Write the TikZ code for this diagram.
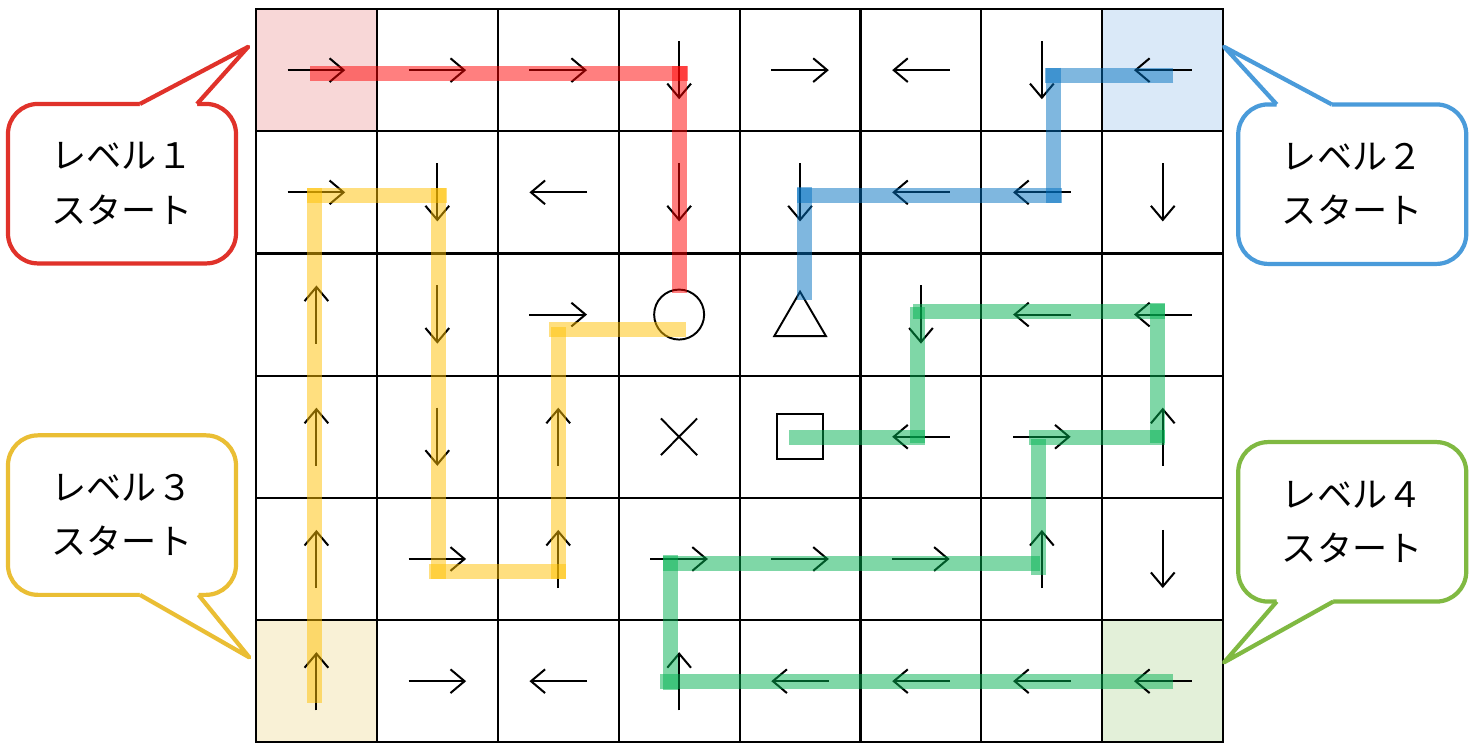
\documentclass[tikz,border=0pt]{standalone}
\usepackage{fontspec}
\newfontfamily\jpfont{Noto Sans CJK JP}
\usetikzlibrary{arrows.meta}

\definecolor{bubblered}{RGB}{224,50,42}
\definecolor{bubbleblue}{RGB}{74,155,218}
\definecolor{bubbleyellow}{RGB}{234,190,52}
\definecolor{bubblegreen}{RGB}{128,185,66}
\definecolor{cellred}{RGB}{248,215,215}
\definecolor{cellblue}{RGB}{218,233,248}
\definecolor{cellyellow}{RGB}{249,241,214}
\definecolor{cellgreen}{RGB}{227,240,217}
\definecolor{routered}{RGB}{255,0,0}
\definecolor{routeblue}{RGB}{0,112,192}
\definecolor{routeyellow}{RGB}{255,192,0}
\definecolor{routegreen}{RGB}{0,176,80}

\begin{document}
\begin{tikzpicture}[x=2.418cm, y=-2.444cm,
        gridline/.style={line width=1.2pt, line cap=rect},
        cellarrow/.style={-{Straight Barb[length=8pt, width=13.5pt]}, line width=1.15pt},
        symbolline/.style={line width=1.1pt},
        route/.style={line width=0.3cm, draw opacity=0.5},
        bubble/.style={rectangle, rounded corners=0.6cm, draw, fill=white, line width=2.4pt, outer sep=0pt,
            minimum width=4.56cm, minimum height=3.19cm, align=center,
            font=\jpfont\fontsize{20}{31}\selectfont},
        pointer/.style={line width=2.4pt, line join=round}
    ]
        \useasboundingbox (-2.117,-0.074) rectangle (10.041,5.998);

        % Start cells
        \fill[cellred] (0,0) rectangle (1,1);
        \fill[cellblue] (7,0) rectangle (8,1);
        \fill[cellyellow] (0,5) rectangle (1,6);
        \fill[cellgreen] (7,5) rectangle (8,6);

        % Grid
        \foreach \i in {0,...,8} \draw[gridline] (\i,0) -- (\i,6);
        \foreach \j in {0,...,6} \draw[gridline] (0,\j) -- (8,\j);

        % Arrows in cells (column/row/dx/dy)
        \foreach \c/\r/\dx/\dy in {0/0/1/0, 1/0/1/0, 2/0/1/0, 4/0/1/0, 0/1/1/0, 2/2/1/0, 6/3/1/0,
                1/4/1/0, 3/4/1/0, 4/4/1/0, 5/4/1/0, 1/5/1/0,
                5/0/-1/0, 7/0/-1/0, 2/1/-1/0, 5/1/-1/0, 6/1/-1/0, 6/2/-1/0, 7/2/-1/0, 5/3/-1/0,
                2/5/-1/0, 4/5/-1/0, 5/5/-1/0, 6/5/-1/0, 7/5/-1/0,
                3/0/0/1, 6/0/0/1, 1/1/0/1, 3/1/0/1, 4/1/0/1, 7/1/0/1, 1/2/0/1, 5/2/0/1, 1/3/0/1, 7/4/0/1,
                0/2/0/-1, 0/3/0/-1, 2/3/0/-1, 7/3/0/-1, 0/4/0/-1, 2/4/0/-1, 6/4/0/-1, 0/5/0/-1, 3/5/0/-1}
            \draw[cellarrow] ({\c+0.5-0.238*\dx},{\r+0.5-0.238*\dy}) -- ({\c+0.5+0.238*\dx},{\r+0.5+0.238*\dy});

        % Goal symbols
        \draw[symbolline] (3.5,2.5) circle[radius=0.5cm];
        \draw[symbolline] (4.5,2.313) -- (4.714,2.676) -- (4.287,2.676) -- cycle;
        \draw[symbolline] (3.349,3.35) -- (3.649,3.65);
        \draw[symbolline] (3.349,3.65) -- (3.649,3.35);
        \draw[symbolline] (4.312,3.314) rectangle (4.687,3.685);

        % Level 1 route
        \draw[route, draw=routered] (0.447,0.526) -- (3.571,0.526);
        \draw[route, draw=routered] (3.507,0.464) -- (3.507,2.322);
        % Level 2 route
        \draw[route, draw=routeblue] (7.587,0.542) -- (6.529,0.542);
        \draw[route, draw=routeblue] (6.596,0.480) -- (6.596,1.585);
        \draw[route, draw=routeblue] (6.664,1.522) -- (4.472,1.522);
        \draw[route, draw=routeblue] (4.533,1.459) -- (4.533,2.381);
        % Level 3 route
        \draw[route, draw=routeyellow] (0.488,5.677) -- (0.488,1.467);
        \draw[route, draw=routeyellow] (0.424,1.529) -- (1.577,1.529);
        \draw[route, draw=routeyellow] (1.512,1.467) -- (1.512,4.667);
        \draw[route, draw=routeyellow] (1.431,4.601) -- (2.564,4.601);
        \draw[route, draw=routeyellow] (2.502,4.667) -- (2.502,2.602);
        \draw[route, draw=routeyellow] (2.426,2.619) -- (3.554,2.619);
        % Level 4 route
        \draw[route, draw=routegreen] (7.587,5.506) -- (3.342,5.506);
        \draw[route, draw=routegreen] (3.428,5.573) -- (3.428,4.468);
        \draw[route, draw=routegreen] (3.364,4.534) -- (6.485,4.534);
        \draw[route, draw=routegreen] (6.475,4.632) -- (6.475,3.521);
        \draw[route, draw=routegreen] (6.394,3.509) -- (7.519,3.509);
        \draw[route, draw=routegreen] (7.454,3.549) -- (7.454,2.408);
        \draw[route, draw=routegreen] (7.519,2.473) -- (5.432,2.473);
        \draw[route, draw=routegreen] (5.471,2.441) -- (5.471,3.549);
        \draw[route, draw=routegreen] (5.533,3.509) -- (4.411,3.509);

        % Speech bubbles
        \node[bubble, draw=bubblered] (lv1) at (-1.108,1.429) {レベル１\\スタート};
        \node[bubble, draw=bubbleblue] (lv2) at (9.067,1.433) {レベル２\\スタート};
        \node[bubble, draw=bubbleyellow] (lv3) at (-1.108,4.141) {レベル３\\スタート};
        \node[bubble, draw=bubblegreen] (lv4) at (9.067,4.196) {レベル４\\スタート};

        \coordinate (tip1) at (-0.064,0.309);
        \coordinate (tip2) at (8.007,0.309);
        \coordinate (tip3) at (-0.055,5.305);
        \coordinate (tip4) at (8.007,5.346);

        \fill[white] ([xshift=0.36cm, yshift=-0.12cm]lv1.north) -- ([xshift=0.36cm]lv1.north) -- (tip1)
            -- ([xshift=1.5cm]lv1.north) -- ([xshift=1.5cm, yshift=-0.12cm]lv1.north) -- cycle;
        \draw[pointer, draw=bubblered] ([xshift=0.36cm]lv1.north) -- (tip1) -- ([xshift=1.5cm]lv1.north);

        \fill[white] ([xshift=-1.51cm, yshift=-0.12cm]lv2.north) -- ([xshift=-1.51cm]lv2.north) -- (tip2)
            -- ([xshift=-0.41cm]lv2.north) -- ([xshift=-0.41cm, yshift=-0.12cm]lv2.north) -- cycle;
        \draw[pointer, draw=bubbleblue] ([xshift=-1.51cm]lv2.north) -- (tip2) -- ([xshift=-0.41cm]lv2.north);

        \fill[white] ([xshift=0.36cm, yshift=0.12cm]lv3.south) -- ([xshift=0.36cm]lv3.south) -- (tip3)
            -- ([xshift=1.53cm]lv3.south) -- ([xshift=1.53cm, yshift=0.12cm]lv3.south) -- cycle;
        \draw[pointer, draw=bubbleyellow] ([xshift=0.36cm]lv3.south) -- (tip3) -- ([xshift=1.53cm]lv3.south);

        \fill[white] ([xshift=-1.51cm, yshift=0.12cm]lv4.south) -- ([xshift=-1.51cm]lv4.south) -- (tip4)
            -- ([xshift=-0.38cm]lv4.south) -- ([xshift=-0.38cm, yshift=0.12cm]lv4.south) -- cycle;
        \draw[pointer, draw=bubblegreen] ([xshift=-1.51cm]lv4.south) -- (tip4) -- ([xshift=-0.38cm]lv4.south);
    \end{tikzpicture}
\end{document}
